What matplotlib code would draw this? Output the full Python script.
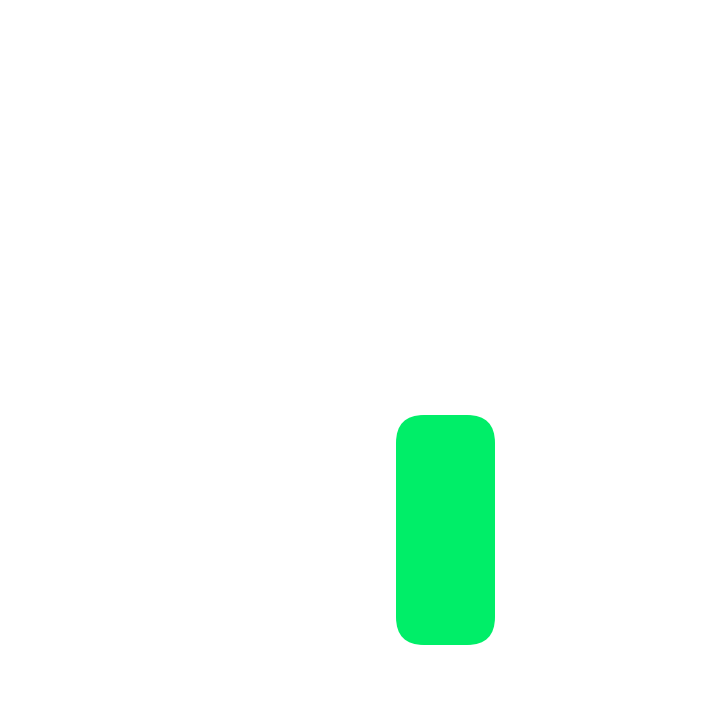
import matplotlib
matplotlib.use("Agg")
import matplotlib.pyplot as plt
from matplotlib.patches import FancyBboxPatch

# data
categories = ["A"]
values = [40]
bar_color = "#00EE68"

fig = plt.figure(figsize=(7.2, 7.2), dpi=100)
fig.patch.set_facecolor("white")

# axes placed so the single bar lands where it sits in the reference
W = 720.0
unit_px = 123.75
ax = fig.add_axes([(445.5 - unit_px / 2) / W, 75 / W, unit_px / W, 575 / W])
ax.set_xlim(-0.5, 0.5)
ax.set_ylim(0, 100)
ax.axis("off")

bars = ax.bar(range(len(categories)), values, width=0.8, color=bar_color)

# swap the plain rectangles for rounded ones
fig.canvas.draw()
px_per_x = ax.transData.transform((1, 0))[0] - ax.transData.transform((0, 0))[0]
px_per_y = ax.transData.transform((0, 1))[1] - ax.transData.transform((0, 0))[1]
aspect = px_per_x / px_per_y
radius_px = 28
for b in bars:
    x, y = b.get_x(), b.get_y()
    w, h = b.get_width(), b.get_height()
    b.set_visible(False)
    patch = FancyBboxPatch((x, y), w, h,
                           boxstyle=f"round,pad=0,rounding_size={radius_px / px_per_x}",
                           mutation_aspect=aspect,
                           facecolor=bar_color, edgecolor="none", clip_on=False)
    ax.add_patch(patch)

fig.savefig("out.png", dpi=100, facecolor="white")
